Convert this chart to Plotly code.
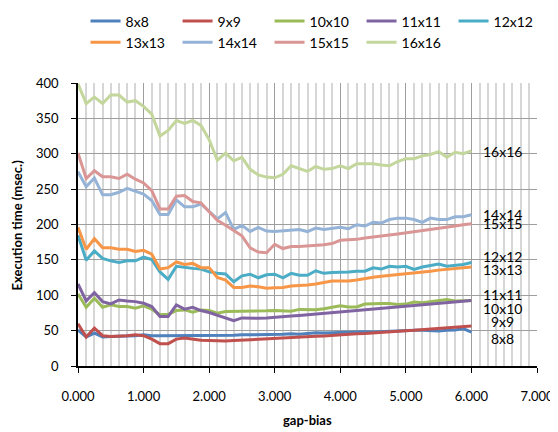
import plotly.graph_objects as go

gap_bias = [0.0, 0.125, 0.25, 0.375, 0.5, 0.625, 0.75, 0.875,
            1.0, 1.125, 1.25, 1.375, 1.5, 1.625, 1.75, 1.875,
            2.0, 2.125, 2.25, 2.375, 2.5, 2.625, 2.75, 2.875,
            3.0, 3.125, 3.25, 3.375, 3.5, 3.625, 3.75, 3.875,
            4.0, 4.125, 4.25, 4.375, 4.5, 4.625, 4.75, 4.875,
            5.0, 5.125, 5.25, 5.375, 5.5, 5.625, 5.75, 5.875, 6.0]

s8 = [51, 41, 46.6, 41, 41.8, 41.8, 42.8, 42.8, 44, 42.8, 42.8, 42.8, 43.5, 43.5, 43.5, 43.5,
      43.5, 43, 43.5, 43.5, 44, 44, 44.5, 44, 44.5, 45, 45.5, 45, 46, 47, 46.5, 47,
      47.5, 47, 47.5, 48.5, 48, 48.5, 49.5, 50, 51, 50.5, 50.5, 50, 49.5, 50.5, 51, 53, 48]
s9 = [59.7, 41, 53.6, 42.8, 41.8, 41.8, 42.8, 44, 42.8, 38, 31.6, 31.6, 38, 39.6, 38, 36.3,
      36, 35.5, 35.5, 36, 36.5, 37.5, 38, 38.5, 39, 39.5, 40, 40.5, 41, 42, 42.5, 43.5,
      44.5, 45, 45.5, 46, 47, 47.5, 48.5, 49, 50, 50.5, 51.5, 52, 53, 54, 55, 55.5, 56.5]
s10 = [101.8, 83, 95.8, 83, 86.4, 84, 84, 81.7, 85, 80.3, 72.3, 73, 78.4, 79.3, 76, 79.3,
       78.4, 74.5, 77, 77, 77.5, 77.5, 78, 78, 78.5, 78.5, 77.5, 80, 79.5, 79.5, 81, 83,
       85, 83.5, 83.5, 87.5, 88.5, 88.5, 88.5, 87, 87.5, 90.5, 89.5, 91, 91.5, 94, 92, 92, 92.5]
s11 = [115.9, 92, 103.7, 91, 87.8, 93.4, 92, 91, 88.8, 84, 70, 70, 86.4, 80.3, 83, 78.4,
       75.6, 72, 68, 64, 68, 67.5, 67.5, 68, 68.5, 69.5, 70.5, 71.5, 72.5, 73.5, 74.5, 75.5,
       76.5, 77.5, 78.5, 79.5, 80.5, 81.5, 82.5, 83.5, 84.5, 85.5, 86.5, 87.5, 88.5, 89.5, 90.5, 91.5, 92.5]
s12 = [184.7, 149.6, 162.6, 152, 148.6, 146.3, 148.6, 148.6, 154, 150.5, 133, 122.5, 141, 139, 138, 137,
       133, 131, 130, 119, 127.5, 129.7, 124.7, 129, 129.7, 124.7, 131, 128.3, 128.3, 134.6, 131, 132,
       132, 133, 134, 134, 138.8, 137, 141, 140, 141, 136.4, 140, 142.5, 144, 141, 142.5, 143.5, 146.3]
s13 = [196, 165, 180, 167, 167, 165, 165, 162, 163.5, 158, 137, 139, 147, 143.5, 145, 139,
       139, 125, 121.5, 111, 111, 113, 112, 110, 110.5, 111, 113, 113.5, 114.5, 116, 118.5, 120,
       120, 120, 121.5, 124, 125.5, 127, 128, 129, 130, 131, 132.5, 134, 135.5, 136.5, 138, 139, 140]
s14 = [274.6, 253.5, 265.7, 242, 242, 245.5, 251, 247, 243, 234, 214, 214, 235, 225, 225, 229,
       218, 208, 217, 193, 198.7, 190, 196, 190.7, 190, 191, 193, 193, 190, 195, 193, 195,
       196, 194, 199.7, 197.8, 203, 202, 207, 209, 209, 207, 203, 209, 207, 207, 211, 211, 213.7]
s15 = [301, 265, 276, 267.5, 267.5, 265, 271, 264, 258.7, 248, 222, 222, 240, 241, 232.5, 230.6,
       218, 206, 199, 191, 184, 167, 161, 160, 172, 166, 169, 169, 169.5, 170, 171.5, 173,
       177.7, 178.5, 179, 181, 182, 183.7, 185, 186.5, 188, 189.5, 191, 192.7, 194.5, 196, 197.8, 199.7, 201]
s16 = [399, 371, 380, 371, 383, 383, 373, 375, 367, 356, 325, 333, 347, 343, 347, 340,
       320, 291, 301, 290, 295, 278, 270, 267, 266, 271, 283, 279, 275, 282, 278, 279,
       283, 279, 286, 286, 286, 284, 283, 289, 293, 293, 297, 299, 303, 295, 302, 300, 304]

names = ["8x8", "9x9", "10x10", "11x11", "12x12", "13x13", "14x14", "15x15", "16x16"]
series = [s8, s9, s10, s11, s12, s13, s14, s15, s16]
colors = ["#4F81BD", "#C0504D", "#9BBB59", "#8064A2", "#4BACC6",
          "#F79646", "#95B3D7", "#D99694", "#C3D69B"]
# end-label vertical positions (data units)
label_y = [38.5, 63, 81, 101, 155, 136, 214, 201, 303]
label_x = 6.48

FONT = "Lato, 'Open Sans', sans-serif"

fig = go.Figure()
for n, s, c in zip(names, series, colors):
    fig.add_trace(go.Scatter(x=gap_bias, y=s, name=n, mode="lines",
                             line=dict(color=c, width=3)))

annotations = []
for n, ly in zip(names, label_y):
    annotations.append(dict(x=label_x, y=ly, xref="x", yref="y", text=n,
                            showarrow=False, xanchor="center", yanchor="middle",
                            font=dict(family=FONT, size=14, color="#000")))
annotations.append(dict(x=0.5, y=-0.192, xref="paper", yref="paper", text="<b>gap-bias</b>",
                        showarrow=False, xanchor="center", yanchor="middle",
                        font=dict(family=FONT, size=13, color="#000")))
annotations.append(dict(x=-0.133, y=0.5, xref="paper", yref="paper",
                        text="<b>Execution time (msec.)</b>", textangle=-90,
                        showarrow=False, xanchor="center", yanchor="middle",
                        font=dict(family=FONT, size=13, color="#000")))

# the page body has an 8px margin; size the figure so it fits the 558x432 window
fig.update_layout(
    width=550, height=424,
    margin=dict(l=70, r=21, t=75, b=66, autoexpand=False),
    paper_bgcolor="white", plot_bgcolor="white",
    font=dict(family=FONT, size=14, color="#000"),
    showlegend=True,
    legend=dict(orientation="h", x=-0.001, y=1.274, xanchor="left", yanchor="top",
                entrywidth=39, entrywidthmode="pixels", indentation=8,
                font=dict(family=FONT, size=14, color="#000"),
                tracegroupgap=0, itemwidth=30),
    annotations=annotations,
)
fig.update_xaxes(range=[0, 7], dtick=1, tick0=0, tickformat=".3f",
                 showgrid=True, gridcolor="#9E9E9E", gridwidth=1,
                 minor=dict(dtick=0.125, showgrid=True, gridcolor="#D6D6D6", gridwidth=1.5),
                 showline=True, linecolor="#000", linewidth=1.5,
                 ticks="outside", ticklen=5, tickcolor="#000",
                 ticklabelstandoff=13, zeroline=False,
                 tickfont=dict(family=FONT, size=13, color="#000"))
fig.update_yaxes(range=[0, 400], dtick=50, tick0=0,
                 showgrid=True, gridcolor="#9E9E9E", gridwidth=1,
                 showline=True, linecolor="#000", linewidth=1.5,
                 ticks="outside", ticklen=5, tickcolor="#000",
                 ticklabelstandoff=10, zeroline=False,
                 tickfont=dict(family=FONT, size=13, color="#000"))

fig.write_html("out.html")
